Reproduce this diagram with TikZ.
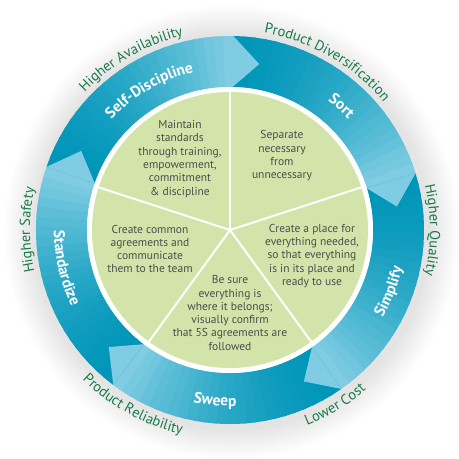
\documentclass[tikz,border=0pt]{standalone}
\usepackage{fontspec}
\setmainfont{PT Sans}
\usepackage{xcolor}
\usepackage{tikz}
\usetikzlibrary{decorations.text}

\definecolor{ringdark}{RGB}{0,150,185}
\definecolor{ringlight}{RGB}{128,205,227}
\definecolor{piegreen}{RGB}{210,228,170}
\definecolor{piegray}{RGB}{77,77,77}
\definecolor{labelgreen}{RGB}{24,122,72}

\newcommand\outerfont{\fontsize{14.5}{16}\selectfont\color{labelgreen}}
\newcommand\ringfont{\fontsize{15.5}{17}\selectfont\bfseries\color{white}}

\tikzset{
	pietext/.style={align=center, text=piegray, font=\fontsize{11.5}{13.3}\selectfont},
	divider/.style={white, line width=2pt},
}

\begin{document}
\begin{tikzpicture}[x=1pt,y=1pt]
		\useasboundingbox (-230,-229) rectangle (229,230);
		\coordinate (O) at (0,0);
		% soft halo
		\foreach \k in {0,...,30} {
			\pgfmathsetmacro\g{0.35*\k}
			\fill[black!\g] (2,-2) circle[radius=228-\k];
		}
		% ring bodies
		\foreach \s/\e in {89/17, 17/-55, -55/-127, -127/-199, 161/89} {
			\foreach \k in {0,...,23} {
				\pgfmathsetmacro\a{\s-3*\k}
				\pgfmathsetmacro\b{max(\a-4,\e)}
				\pgfmathsetmacro\p{100*(\k/23)^1.6}
				\fill[ringlight!\p!ringdark] (\a:143) arc[start angle=\a, end angle=\b, radius=143]
					-- (\b:194) arc[start angle=\b, end angle=\a, radius=194] -- cycle;
			}
		}
		% arrow heads
		\foreach \t in {80,8,-64,-136,-208}
			\fill[ringlight] ({\t+9}:194) -- (\t:168.5) -- ({\t+9}:143) -- cycle;
		% pie
		\fill[white] (O) circle[radius=143];
		\fill[piegreen] (O) circle[radius=138];
		\foreach \d in {90,162,234,306,18}
			\draw[divider] (O) -- (\d:139);
		\node[pietext] (maintain) at (-50,71) {Maintain\\standards\\through training,\\empowerment,\\commitment\\\& discipline};
		\node[pietext] (separate) at (52,74) {Separate\\necessary\\from\\unnecessary};
		\node[pietext] (place) at (82,-26) {Create a place for\\everything needed,\\so that everything\\is in its place and\\ready to use};
		\node[pietext] (besure) at (0,-83) {Be sure\\everything is\\where it belongs;\\visually confirm\\that 5S agreements are\\followed};
		\node[pietext] (common) at (-80,-19) {Create common\\agreements and\\communicate\\them to the team};
		% ring labels
		\path[decorate, decoration={text along path, text align=center, text={|\ringfont|Sort}}]
			(78:162) arc[start angle=78, end angle=18, radius=162];
		\path[decorate, decoration={text along path, text align=center, text={|\ringfont|Self-Discipline}}]
			(158:162) arc[start angle=158, end angle=82, radius=162];
		\path[decorate, decoration={text along path, text align=center, text={|\ringfont|Simplify}}]
			(-51:176) arc[start angle=-51, end angle=9, radius=176];
		\path[decorate, decoration={text along path, text align=center, text={|\ringfont|Sweep}}]
			(-125:176) arc[start angle=-125, end angle=-65, radius=176];
		\path[decorate, decoration={text along path, text align=center, text={|\ringfont|Standardize}}]
			(155:176) arc[start angle=155, end angle=231, radius=176];
		% benefits
		\path[decorate, decoration={text along path, text align=center, text={|\outerfont|Higher Availability}}]
			(160:200) arc[start angle=160, end angle=80, radius=200];
		\path[decorate, decoration={text along path, text align=center, text={|\outerfont|Product Diversification}}]
			(105:200) arc[start angle=105, end angle=15, radius=200];
		\path[decorate, decoration={text along path, text align=center, text={|\outerfont|Higher Quality}}]
			(35:200) arc[start angle=35, end angle=-35, radius=200];
		\path[decorate, decoration={text along path, text align=center, text={|\outerfont|Lower Cost}}]
			(-92:210) arc[start angle=-92, end angle=-26, radius=210];
		\path[decorate, decoration={text along path, text align=center, text={|\outerfont|Product Reliability}}]
			(-164:210) arc[start angle=-164, end angle=-74, radius=210];
		\path[decorate, decoration={text along path, text align=center, text={|\outerfont|Higher Safety}}]
			(215:200) arc[start angle=215, end angle=145, radius=200];
	\end{tikzpicture}
\end{document}
